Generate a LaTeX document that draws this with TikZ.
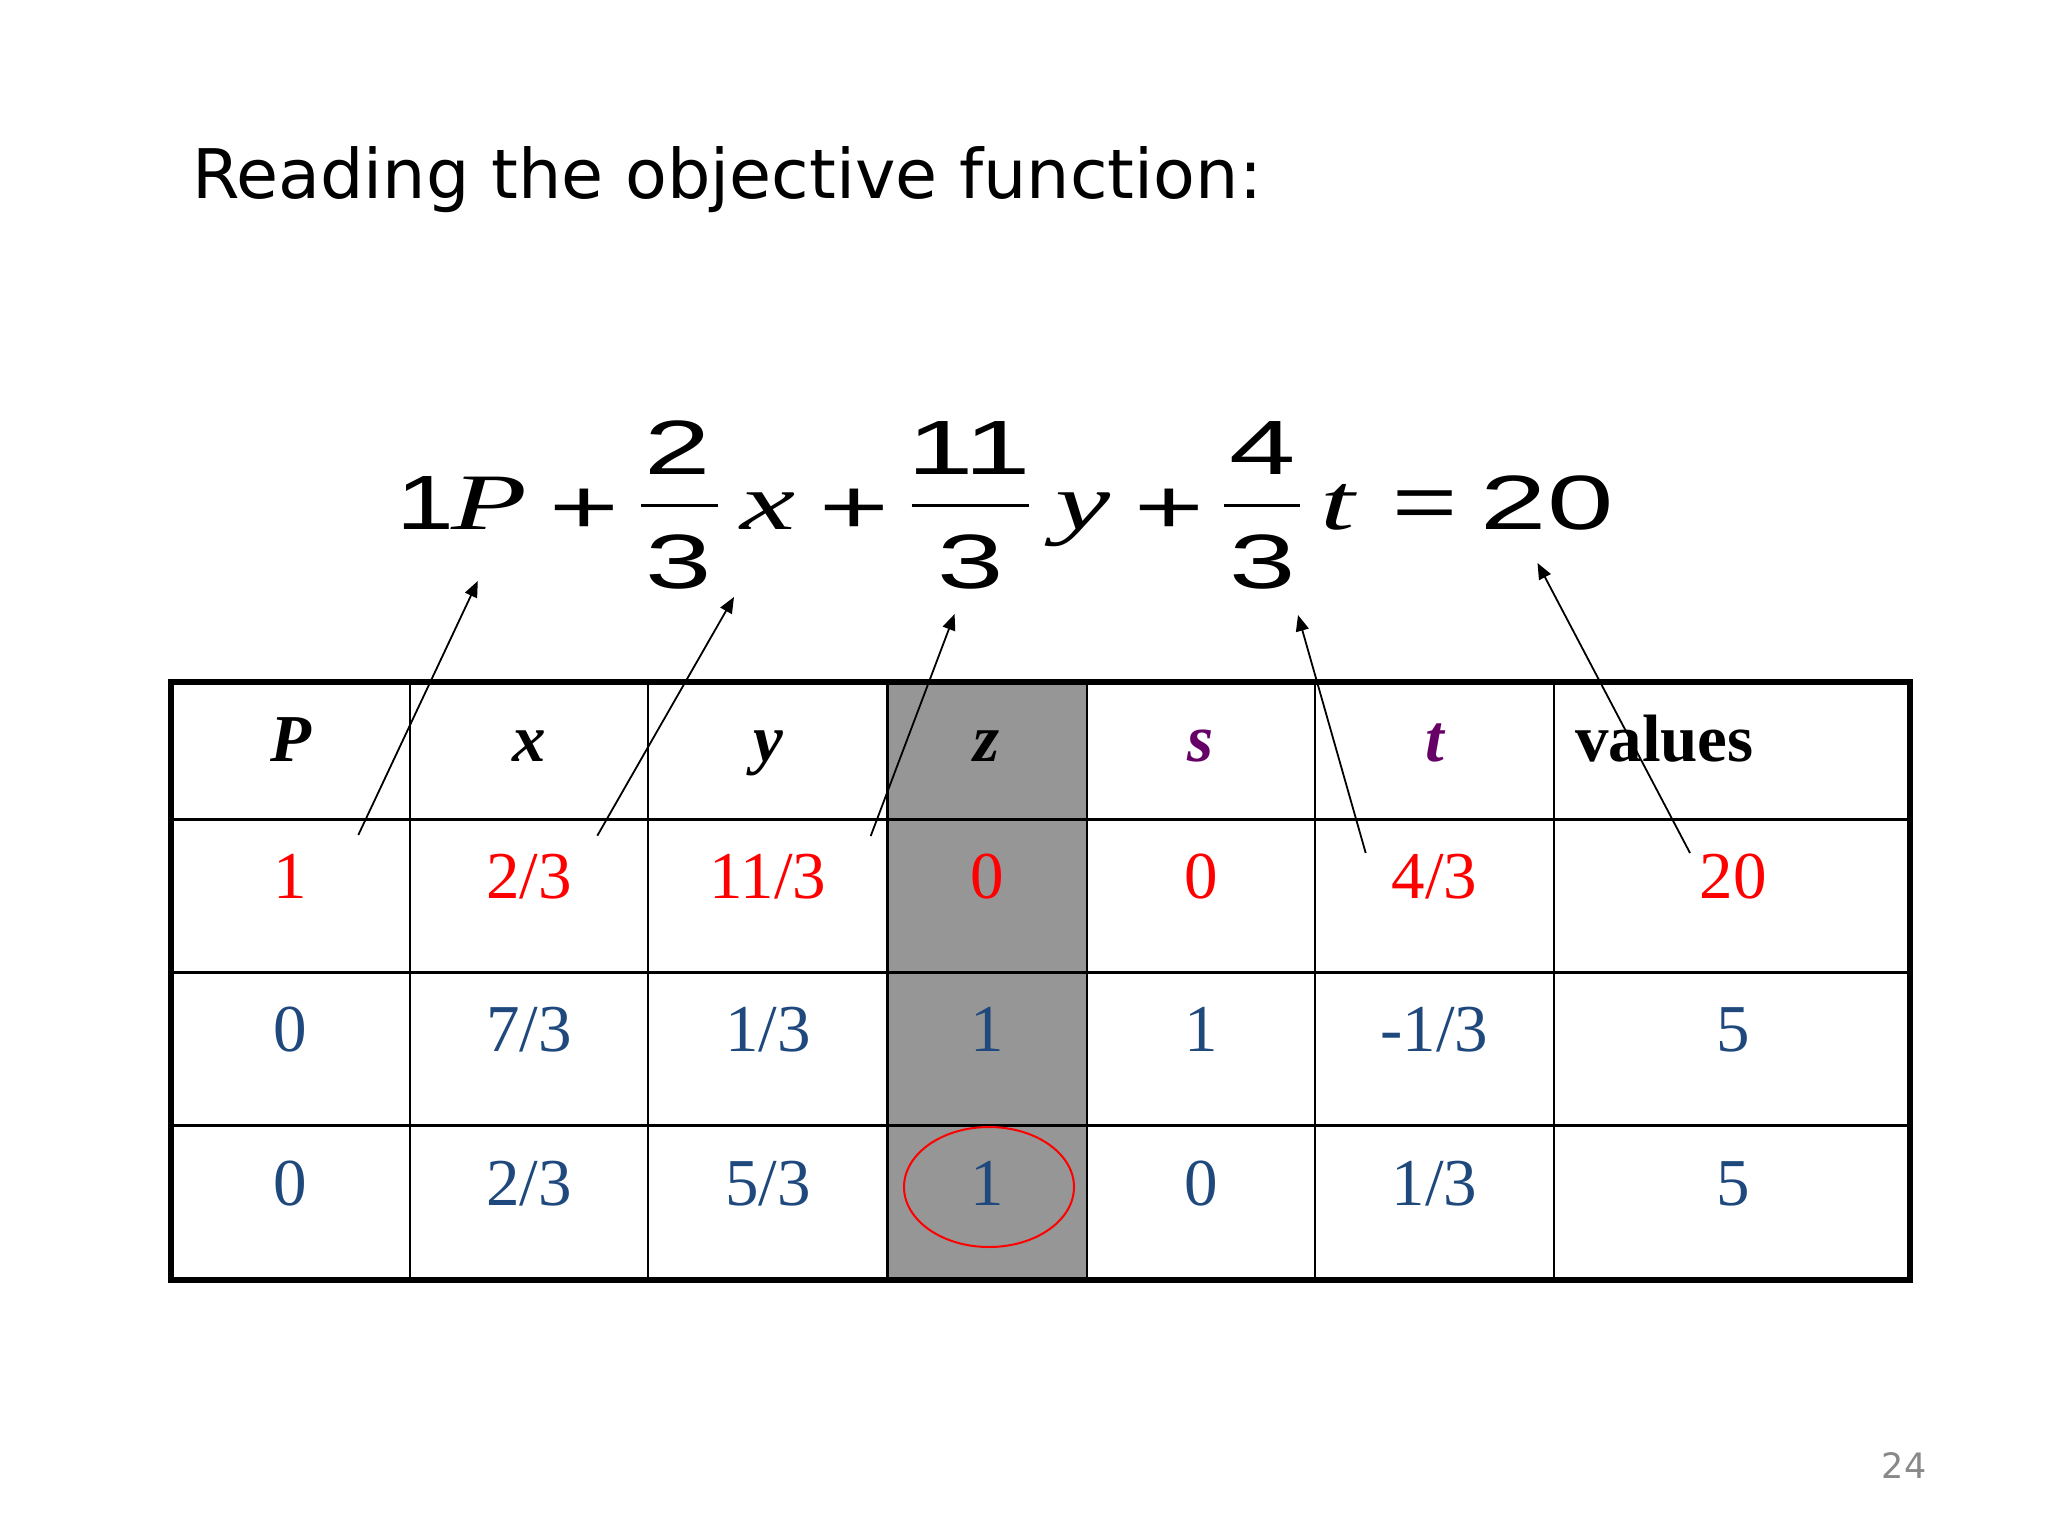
\documentclass[tikz,border=0pt]{standalone}
\usepackage{fontspec}
\usepackage{graphicx}
\setmainfont{Liberation Serif}
\newfontfamily\titlefont{DejaVu Sans}
\newfontfamily\eqsans{Liberation Sans}
\usetikzlibrary{arrows.meta}
\definecolor{cellred}{RGB}{255,0,0}
\definecolor{cellblue}{RGB}{31,73,125}
\definecolor{hdrpurple}{RGB}{102,0,102}
\definecolor{colgray}{RGB}{150,150,150}
\definecolor{pagegray}{RGB}{137,137,137}
\newcommand{\eqstretch}[1]{\scalebox{1.55}[1]{#1}}
\tikzset{
  txt/.style={inner sep=0pt, outer sep=0pt, anchor=base},
  eqnum/.style={txt, font=\eqsans\fontsize{77}{80}\selectfont},
  eqvar/.style={txt, font=\fontsize{80}{84}\selectfont\itshape},
  eqop/.style={inner sep=0pt, outer sep=0pt, anchor=center, font=\eqsans\fontsize{77}{80}\selectfont},
  fracbar/.style={line width=3pt},
  cell/.style={txt, font=\fontsize{67}{70}\selectfont},
  hdr/.style={txt, font=\fontsize{67}{70}\selectfont\bfseries\itshape},
  redcell/.style={cell, text=cellred},
  bluecell/.style={cell, text=cellblue},
  pointer/.style={line width=1.8pt, -{Triangle[length=16pt,width=13pt]}},
  inner line/.style={line width=2.6pt},
  outer line/.style={line width=5.5pt},
}
\begin{document}
\begin{tikzpicture}[x=1pt,y=-1pt]
\useasboundingbox (0,0) rectangle (2048,1536);
\fill[white] (0,0) rectangle (2048,1536);

% title
\node[txt, anchor=base west, font=\titlefont\fontsize{68.4}{72}\selectfont] (title) at (192,198) {Reading the objective function:};

% equation
\node[eqnum] (e1) at (425,529) {\scalebox{1.35}[1]{1}};
\node[eqvar] (eP) at (489,529) {\eqstretch{P}};
\node[eqop] (p1) at (584.5,511.5) {\eqstretch{+}};
\node[eqnum] (n1) at (678,474) {\eqstretch{2}};
\node[eqnum] (d1) at (679,588) {\eqstretch{3}};
\draw[fracbar] (641,505) -- (717.5,505);
\node[eqvar] (ex) at (768,529) {\eqstretch{x}};
\node[eqop] (p2) at (854.5,511.5) {\eqstretch{+}};
\node[eqnum] (n2) at (969,474) {\eqstretch{11}};
\node[eqnum] (d2) at (971,588) {\eqstretch{3}};
\draw[fracbar] (911.5,505) -- (1029,505);
\node[eqvar] (ey) at (1083,529) {\eqstretch{y}};
\node[eqop] (p3) at (1169,511.5) {\eqstretch{+}};
\node[eqnum] (n3) at (1263,474) {\eqstretch{4}};
\node[eqnum] (d3) at (1263,588) {\eqstretch{3}};
\draw[fracbar] (1224,505) -- (1300,505);
\node[eqvar] (et) at (1337.5,529) {\eqstretch{t}};
\node[eqop] (eq) at (1425,510) {\scalebox{1.45}[1]{=}};
\node[eqnum] (e20) at (1547,529) {\eqstretch{20}};

% table background of z column
\fill[colgray] (887.5,682) rectangle (1087,1280);

% inner grid lines
\foreach \xx in {410,648,887.5,1087,1315,1554}
  \draw[inner line] (\xx,682) -- (\xx,1280);
\foreach \yy in {819.3,972.7,1125.7}
  \draw[inner line] (171,\yy) -- (1910,\yy);
% outer border
\draw[outer line] (171,682) rectangle (1910,1280);

% header row
\node[hdr] (hP) at (290.5,761) {P};
\node[hdr] (hx) at (529,761) {x};
\node[hdr] (hy) at (768,761) {y};
\node[hdr] (hz) at (987,761) {z};
\node[hdr, text=hdrpurple] (hs) at (1201,761) {s};
\node[hdr, text=hdrpurple] (ht) at (1434.5,761) {t};
\node[txt, anchor=base west, font=\fontsize{67}{70}\selectfont\bfseries] (hv) at (1575,761) {values};

% row 1 (objective)
\node[redcell] (r1c1) at (290.5,898) {1};
\node[redcell] (r1c2) at (529,898) {2/3};
\node[redcell] (r1c3) at (768,898) {11/3};
\node[redcell] (r1c4) at (987,898) {0};
\node[redcell] (r1c5) at (1201,898) {0};
\node[redcell] (r1c6) at (1434.5,898) {4/3};
\node[redcell] (r1c7) at (1733,898) {20};

% row 2
\node[bluecell] (r2c1) at (290.5,1051.5) {0};
\node[bluecell] (r2c2) at (529,1051.5) {7/3};
\node[bluecell] (r2c3) at (768,1051.5) {1/3};
\node[bluecell] (r2c4) at (987,1051.5) {1};
\node[bluecell] (r2c5) at (1201,1051.5) {1};
\node[bluecell] (r2c6) at (1434.5,1051.5) {-1/3};
\node[bluecell] (r2c7) at (1733,1051.5) {5};

% row 3
\node[bluecell] (r3c1) at (290.5,1205) {0};
\node[bluecell] (r3c2) at (529,1205) {2/3};
\node[bluecell] (r3c3) at (768,1205) {5/3};
\node[bluecell] (r3c4) at (987,1205) {1};
\node[bluecell] (r3c5) at (1201,1205) {0};
\node[bluecell] (r3c6) at (1434.5,1205) {1/3};
\node[bluecell] (r3c7) at (1733,1205) {5};

% pivot circle
\draw[cellred, line width=2pt] (989,1187) ellipse [x radius=85, y radius=60];

% pointer arrows
\coordinate (a1s) at (358.3,835);
\coordinate (a1e) at (477.8,581);
\coordinate (a2s) at (597.3,835.7);
\coordinate (a2e) at (734,597);
\coordinate (a3s) at (870.7,836);
\coordinate (a3e) at (954.6,614);
\coordinate (a4s) at (1365.7,853);
\coordinate (a4e) at (1298,615);
\coordinate (a5s) at (1690,853);
\coordinate (a5e) at (1537.5,563);
\draw[pointer] (a1s) -- (a1e);
\draw[pointer] (a2s) -- (a2e);
\draw[pointer] (a3s) -- (a3e);
\draw[pointer] (a4s) -- (a4e);
\draw[pointer] (a5s) -- (a5e);

% page number
\node[txt, font=\titlefont\fontsize{35}{38}\selectfont, text=pagegray] (pnum) at (1904,1478) {24};
\end{tikzpicture}
\end{document}
